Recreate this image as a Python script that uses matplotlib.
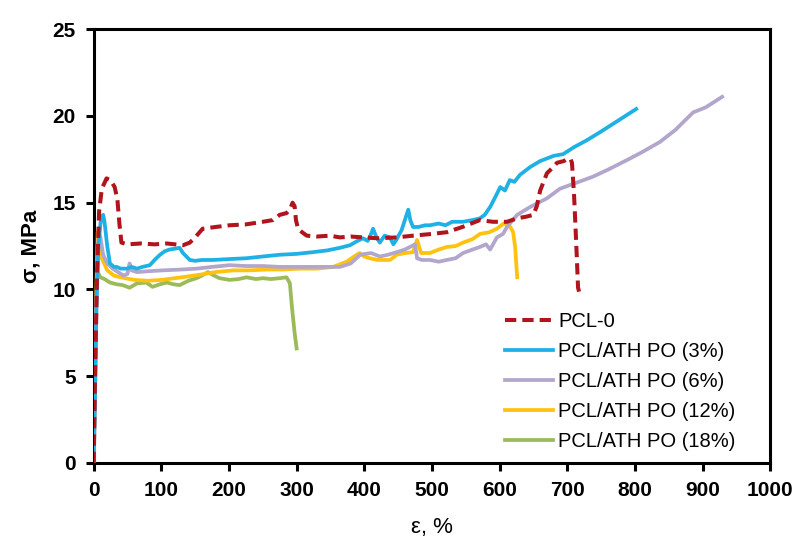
import matplotlib
matplotlib.use("Agg")
import matplotlib.pyplot as plt

plt.rcParams['font.family'] = ['Liberation Sans', 'DejaVu Sans']

# PCL-0
pcl0_x = [0, 2, 5, 8, 12, 19, 25, 31, 35, 38, 41, 50, 70, 90, 108, 120, 132, 142, 150, 161,
          180, 201, 225, 250, 265, 275, 285, 290, 294, 297, 299, 302, 308, 315, 330, 349, 364,
          380, 398, 420, 448, 472, 500, 522, 545, 571, 590, 611, 626, 640, 650, 655, 660, 665,
          670, 678, 685, 695, 701, 705, 707, 710, 712, 714, 716, 718]
pcl0_y = [0, 5, 11, 14.5, 15.8, 16.4, 16.3, 15.9, 15.2, 13.8, 12.7, 12.6, 12.65, 12.6, 12.65,
          12.6, 12.55, 12.7, 13.0, 13.5, 13.6, 13.7, 13.75, 13.9, 14.0, 14.3, 14.4, 14.6, 15.0,
          14.8, 14.0, 13.5, 13.3, 13.1, 13.05, 13.1, 13.0, 13.05, 13.0, 12.95, 13.0, 13.1, 13.2,
          13.3, 13.6, 14.0, 13.9, 13.9, 14.1, 14.2, 14.3, 14.8, 15.7, 16.2, 16.7, 17.0, 17.3,
          17.4, 17.55, 17.5, 17.3, 15.5, 13.8, 12.0, 10.1, 9.8]

# PCL/ATH PO (3%)
p3_x = [0, 2, 4, 7, 10, 12, 14, 16, 20, 24, 30, 34, 40, 49, 56, 64, 72, 83, 90, 98, 105, 112,
        120, 127, 132, 137, 142, 150, 160, 176, 200, 226, 250, 275, 300, 324, 345, 364, 379,
        390, 398, 405, 410, 413, 418, 423, 430, 438, 443, 448, 452, 455, 460, 465, 468, 472,
        480, 490, 497, 510, 520, 530, 546, 560, 571, 578, 586, 592, 601, 608, 615, 622, 630,
        645, 660, 680, 694, 710, 729, 750, 770, 790, 802]
p3_y = [0, 4, 9, 12.5, 13.8, 14.2, 14.3, 13.9, 12.5, 11.5, 11.3, 11.3, 11.2, 11.2, 11.3, 11.2,
        11.3, 11.4, 11.7, 12.0, 12.2, 12.3, 12.35, 12.4, 12.1, 11.9, 11.7, 11.65, 11.7, 11.7,
        11.75, 11.8, 11.9, 12.0, 12.05, 12.15, 12.25, 12.4, 12.55, 12.8, 12.95, 12.8, 13.2,
        13.5, 13.0, 12.7, 13.1, 13.0, 12.6, 12.9, 13.2, 13.4, 14.0, 14.6, 14.0, 13.6, 13.6,
        13.7, 13.7, 13.8, 13.7, 13.9, 13.9, 14.0, 14.1, 14.3, 14.75, 15.2, 15.9, 15.7, 16.3,
        16.2, 16.6, 17.05, 17.4, 17.7, 17.8, 18.2, 18.6, 19.1, 19.6, 20.1, 20.4]

# PCL/ATH PO (6%)
p6_x = [0, 2, 4, 6, 8, 10, 14, 20, 28, 36, 44, 50, 53, 56, 64, 80, 102, 130, 152, 175, 201,
        225, 250, 275, 300, 330, 364, 380, 394, 410, 423, 435, 448, 460, 470, 475, 478, 485,
        497, 510, 522, 535, 546, 560, 571, 580, 586, 596, 605, 611, 626, 645, 670, 689, 710,
        738, 760, 788, 810, 837, 860, 886, 905, 929]
p6_y = [0, 4, 9, 12.5, 13.2, 13.0, 12.0, 11.5, 11.2, 11.0, 10.8, 10.9, 11.5, 11.1, 11.0, 11.05,
        11.1, 11.15, 11.2, 11.3, 11.4, 11.35, 11.35, 11.3, 11.3, 11.3, 11.3, 11.5, 12.0, 12.1,
        11.9, 12.0, 12.15, 12.3, 12.5, 12.6, 11.8, 11.7, 11.7, 11.6, 11.7, 11.8, 12.1, 12.3,
        12.45, 12.6, 12.3, 13.0, 13.2, 13.6, 14.3, 14.75, 15.25, 15.8, 16.1, 16.5, 16.9, 17.45,
        17.9, 18.5, 19.2, 20.2, 20.5, 21.1]

# PCL/ATH PO (12%)
p12_x = [0, 2, 4, 6, 8, 12, 20, 30, 40, 60, 80, 100, 130, 157, 180, 206, 230, 256, 280, 305,
         330, 354, 374, 385, 393, 400, 408, 420, 438, 448, 460, 472, 478, 484, 497, 510, 522,
         535, 546, 560, 571, 585, 596, 606, 612, 616, 620, 623, 626]
p12_y = [0, 5, 10, 13.3, 12.8, 11.8, 11.1, 10.8, 10.7, 10.55, 10.5, 10.55, 10.7, 10.85, 11.0,
         11.1, 11.1, 11.15, 11.15, 11.2, 11.2, 11.3, 11.6, 11.9, 12.1, 11.9, 11.8, 11.7, 11.7,
         12.0, 12.1, 12.15, 12.85, 12.1, 12.1, 12.3, 12.45, 12.5, 12.7, 12.9, 13.2, 13.3, 13.5,
         13.8, 13.7, 13.6, 13.3, 12.45, 10.7]

# PCL/ATH PO (18%)
p18_x = [0, 1, 2, 3, 4, 6, 10, 16, 24, 34, 43, 53, 64, 78, 87, 98, 108, 118, 127, 140, 152,
         160, 169, 178, 186, 201, 214, 226, 240, 250, 262, 275, 285, 288, 290, 293, 297, 300]
p18_y = [0, 4, 9, 12.5, 13.0, 11.0, 10.7, 10.6, 10.4, 10.3, 10.25, 10.1, 10.35, 10.4, 10.15,
         10.3, 10.4, 10.3, 10.25, 10.5, 10.65, 10.8, 11.0, 10.8, 10.65, 10.55, 10.6, 10.7, 10.6,
         10.65, 10.6, 10.65, 10.7, 10.5, 10.35, 9.0, 7.5, 6.6]

labels = ["PCL-0", "PCL/ATH PO (3%)", "PCL/ATH PO (6%)", "PCL/ATH PO (12%)", "PCL/ATH PO (18%)"]
colors = ["#B0141C", "#1EB1E6", "#B3A6CC", "#FFC20E", "#9BBB59"]

fig = plt.figure(figsize=(7.94, 5.40), dpi=100)
ax = fig.add_axes([0.118, 0.1426, 0.852, 0.8034])

ax.plot(p18_x, p18_y, color=colors[4], lw=2.7, label=labels[4], zorder=2)
ax.plot(p12_x, p12_y, color=colors[3], lw=2.7, label=labels[3], zorder=3)
ax.plot(p6_x, p6_y, color=colors[2], lw=2.7, label=labels[2], zorder=3)
ax.plot(p3_x, p3_y, color=colors[1], lw=2.7, label=labels[1], zorder=4)
ax.plot(pcl0_x, pcl0_y, color=colors[0], lw=2.9, ls=(0, (2.8, 1.5)), label=labels[0], zorder=5)

ax.set_xlim(0, 1000)
ax.set_ylim(0, 25)
ax.set_xticks(range(0, 1001, 100))
ax.set_yticks(range(0, 26, 5))

for s in ax.spines.values():
    s.set_linewidth(2.2)
ax.tick_params(direction='out', length=6, width=2.2, labelsize=15, pad=7)
for t in ax.get_xticklabels() + ax.get_yticklabels():
    t.set_fontweight('bold')

ax.set_xlabel("ε, %", fontsize=16, labelpad=12)
ax.set_ylabel("σ, MPa", fontsize=16, fontweight='bold', labelpad=8)

handles, labs = ax.get_legend_handles_labels()
order = [labs.index(l) for l in labels]
ax.legend([handles[i] for i in order], [labs[i] for i in order],
          loc='upper left', bbox_to_anchor=(0.636, 0.423), bbox_transform=fig.transFigure,
          frameon=False, fontsize=14.5, handlelength=2.4, handletextpad=0.25,
          labelspacing=0.55, borderpad=0, borderaxespad=0)

fig.savefig("out.png", dpi=100)
